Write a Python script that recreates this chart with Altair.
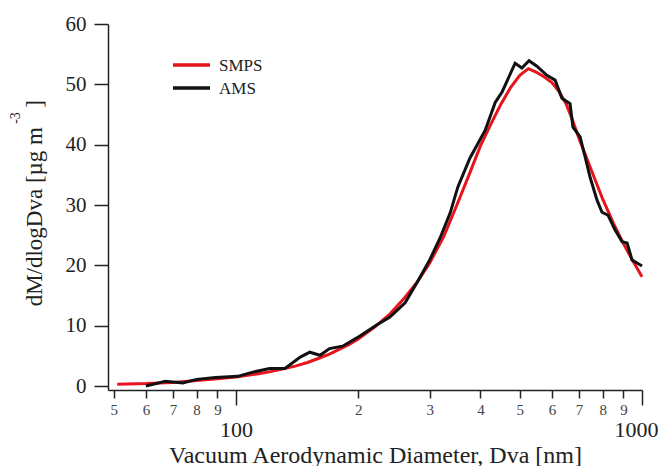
import altair as alt
import pandas as pd

# ---- data ----
smps_d = [51, 60, 70, 80, 90, 100, 110, 120, 130, 140, 150, 160, 170, 180, 190, 200,
          220, 240, 260, 280, 300, 325, 350, 375, 400, 425, 450, 475, 500, 525, 550,
          575, 600, 625, 650, 675, 700, 750, 800, 850, 900, 950, 1000]
smps_v = [0.3, 0.4, 0.6, 0.9, 1.2, 1.5, 1.9, 2.3, 2.8, 3.3, 3.9, 4.6, 5.3, 6.1, 6.9, 7.8,
          9.8, 12.0, 14.6, 17.3, 20.4, 24.8, 30.0, 35.0, 39.8, 43.5, 46.8, 49.5, 51.5, 52.6, 52.0,
          51.2, 50.3, 48.8, 46.8, 44.0, 41.0, 35.8, 31.0, 27.0, 23.6, 20.7, 18.1]

ams_d = [60, 67, 74, 80, 89, 101, 110, 121, 132, 144, 152, 161, 170, 183, 202, 222, 239,
         261, 279, 300, 318, 337, 352, 377, 411, 435, 452, 487, 506, 527, 551, 583, 611,
         635, 665, 676, 704, 724, 745, 775, 797, 825, 858, 893, 919, 945, 989, 1000]
ams_v = [0.0, 0.8, 0.5, 1.1, 1.4, 1.6, 2.3, 2.9, 2.9, 4.8, 5.6, 5.1, 6.2, 6.6, 8.3, 10.1, 11.4,
         13.8, 17.1, 20.9, 24.5, 28.7, 33.0, 37.8, 42.4, 47.0, 48.7, 53.5, 52.7, 53.9, 53.0, 51.5, 50.7,
         47.7, 46.8, 42.9, 41.3, 38.0, 34.6, 30.8, 28.8, 28.3, 25.9, 23.9, 23.7, 20.9, 20.1, 19.9]

series = ["SMPS", "AMS"]
colors = ["#e8141c", "#111111"]
minor_ticks = [50, 60, 70, 80, 90, 200, 300, 400, 500, 600, 700, 800, 900]
major_ticks = [100, 1000]
y_ticks = [0, 10, 20, 30, 40, 50, 60]
x_title = "Vacuum Aerodynamic Diameter, Dva [nm]"
y_title_main = "dM/dlogDva [µg m"
y_title_sup = "-3"
y_title_end = "]"

smps = pd.DataFrame({"d": smps_d, "v": smps_v, "s": "SMPS"})
ams = pd.DataFrame({"d": ams_d, "v": ams_v, "s": "AMS"})

FONT = "Liberation Serif"
INK = "#222222"

xscale = alt.Scale(type="log", domain=[48.4, 1000], nice=False)
yscale = alt.Scale(domain=[-0.66, 60], nice=False, zero=False)
color = alt.Color("s:N", scale=alt.Scale(domain=series, range=colors), legend=None)

y_enc = alt.Y(
    "v:Q", scale=yscale,
    axis=alt.Axis(values=y_ticks, tickSize=14, labelFontSize=21, labelFont=FONT,
                  labelColor=INK, labelPadding=8, tickColor=INK, tickWidth=1.5,
                  domainColor=INK, domainWidth=1.5, grid=False, title=None),
)

minor_axis = alt.Axis(
    values=minor_ticks, labelExpr="substring(toString(datum.value), 0, 1)",
    tickSize=8, tickColor=INK, tickWidth=1.5, domainColor=INK, domainWidth=1.5,
    labelFontSize=15, labelFont=FONT, labelColor="#444444", labelPadding=4,
    labelOverlap=False, labelFlush=False, grid=False, orient="bottom",
    title=x_title, titleFont=FONT, titleFontSize=24, titleFontWeight="normal",
    titleColor=INK, titleY=65, titleBaseline="middle",
)
major_axis = alt.Axis(
    values=major_ticks, format="d", tickSize=15, tickColor=INK, tickWidth=1.5,
    domain=False, labelFontSize=22, labelFont=FONT, labelColor=INK, labelPadding=14,
    labelOverlap=False, labelFlush=True, labelFlushOffset=16, grid=False,
    orient="bottom", title=None,
)

line_smps = alt.Chart(smps).mark_line(strokeWidth=3).encode(
    x=alt.X("d:Q", scale=xscale, axis=minor_axis), y=y_enc, color=color
)
line_ams = alt.Chart(ams).mark_line(strokeWidth=3).encode(
    x=alt.X("d:Q", scale=xscale, axis=major_axis), y=y_enc, color=color
)

def label(txt, x, y, size, align="center"):
    return alt.Chart(pd.DataFrame({"t": [txt]})).mark_text(
        angle=270, font=FONT, fontSize=size, color=INK, align=align, baseline="middle"
    ).encode(text="t:N", x=alt.value(x), y=alt.value(y))

t_main = label(y_title_main, -73, 103, 23, align="right")
t_sup = label(y_title_sup, -92, 94, 14)
t_end = label(y_title_end, -73, 80, 23)

# manual legend (swatch + label per series)
legend_layers = []
for i, (name, col) in enumerate(zip(series, colors)):
    ly = 41 + 23 * i
    ldf = pd.DataFrame({"s": [name]})
    legend_layers.append(
        alt.Chart(ldf).mark_rule(strokeWidth=3.5, color=col).encode(
            x=alt.value(65), x2=alt.value(102), y=alt.value(ly)
        )
    )
    legend_layers.append(
        alt.Chart(ldf).mark_text(font=FONT, fontSize=17, color=INK, align="left",
                                 baseline="middle").encode(
            text="s:N", x=alt.value(111), y=alt.value(ly + 1)
        )
    )

chart = alt.layer(line_smps, line_ams, t_main, t_sup, t_end, *legend_layers).resolve_axis(
    x="independent"
).properties(
    width=534, height=366,
    autosize=alt.AutoSizeParams(type="none"),
    padding={"left": 100, "top": 16, "right": 17, "bottom": 76},
).configure_view(stroke=None)

chart.save("out.html", embed_options={"renderer": "svg", "actions": False})
